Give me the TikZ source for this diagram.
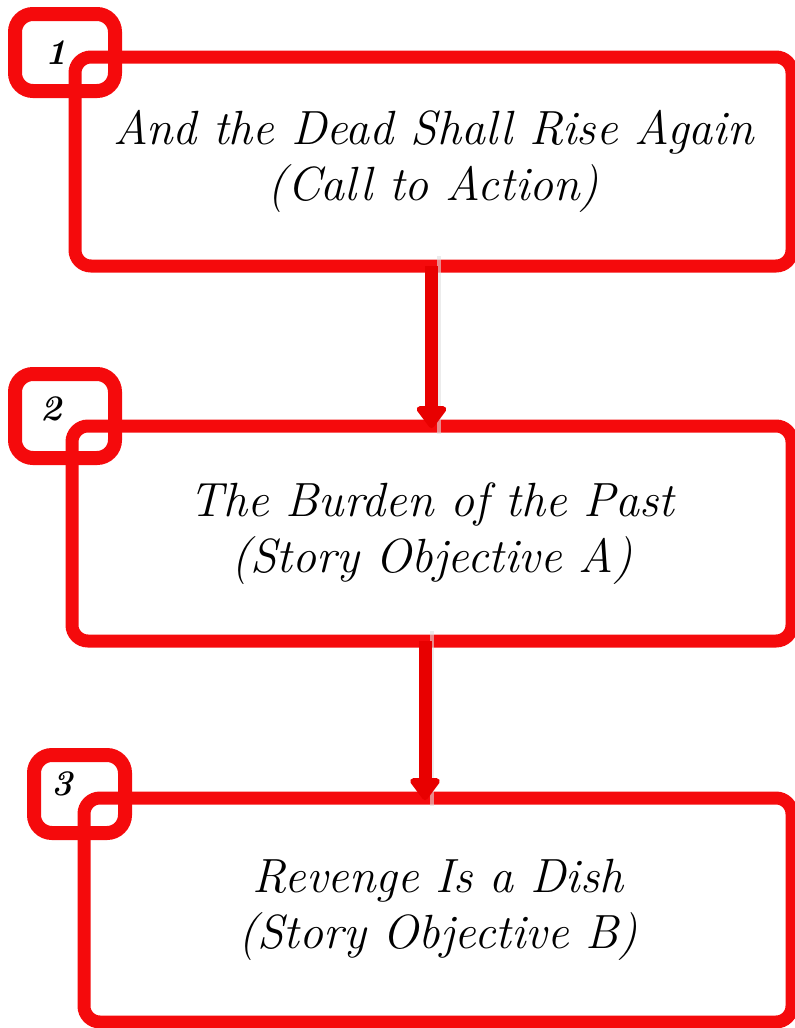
\documentclass[tikz,border=0pt]{standalone}
\usetikzlibrary{arrows.meta,calc}
\definecolor{boxred}{RGB}{245,10,12}
\definecolor{arrowred}{RGB}{232,0,0}
\tikzset{
  mainbox/.style={draw=boxred, line width=13pt, rounded corners=16pt, inner sep=0pt, outer sep=0pt,
    align=center, font=\fontsize{48}{56}\selectfont\itshape},
  numbox/.style={draw=boxred, line width=14pt, rounded corners=18pt, inner sep=0pt, outer sep=0pt},
  numtext/.style={font=\fontsize{36}{36}\selectfont\bfseries\itshape, inner sep=0pt},
  flowarrow/.style={draw=arrowred, line width=13pt, -{Triangle[width=34pt,length=24pt,round]}},
  arrowshadow/.style={draw=black!12, line width=4pt, opacity=0.6}
}
\begin{document}
\begin{tikzpicture}[x=1pt,y=-1pt]
\useasboundingbox (0,0) rectangle (795,1028);
% main boxes
\node[mainbox, minimum width=717pt, minimum height=209pt] (b1) at (433.5,161.5)
  {And the Dead Shall Rise Again\\(Call to Action)};
\node[mainbox, minimum width=720pt, minimum height=215pt] (b2) at (432,533.5)
  {The Burden of the Past\\(Story Objective A)};
\node[mainbox, minimum width=708pt, minimum height=224pt] (b3) at (438,910)
  {Revenge Is a Dish\\(Story Objective B)};
% number boxes
\node[numbox, minimum width=100pt, minimum height=77pt] (n1) at (65,52.5) {};
\node[numbox, minimum width=100pt, minimum height=84pt] (n2) at (65,416) {};
\node[numbox, minimum width=91pt, minimum height=78pt] (n3) at (79.5,794) {};
\node[numtext] (t1) at (56,53) {1};
\node[numtext] (t2) at (51,409) {2};
\node[numtext] (t3) at (62,784) {3};
% connectors
\coordinate (a1s) at ([xshift=-2pt]b1.south);
\coordinate (a2s) at ([xshift=-7pt]b2.south);
\draw[arrowshadow] ([xshift=7pt,yshift=10pt]a1s) -- ([xshift=7pt,yshift=-8pt]a1s |- b2.north);
\draw[arrowshadow] ([xshift=7pt,yshift=10pt]a2s) -- ([xshift=7pt,yshift=-8pt]a2s |- b3.north);
\draw[flowarrow] (a1s) -- ([yshift=-2pt]a1s |- b2.north);
\draw[flowarrow] (a2s) -- ([yshift=-2pt]a2s |- b3.north);
\end{tikzpicture}
\end{document}
